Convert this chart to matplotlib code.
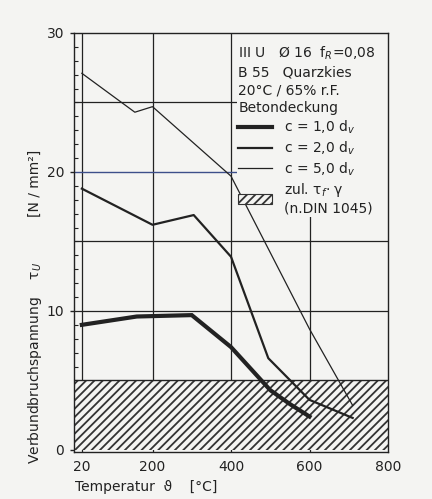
import matplotlib
matplotlib.use("Agg")
import matplotlib.pyplot as plt
from matplotlib.patches import Patch, Rectangle
from matplotlib.ticker import MultipleLocator

plt.rcParams['font.family'] = ['DejaVu Sans']
plt.rcParams['hatch.linewidth'] = 1.3
plt.rcParams['hatch.color'] = '#333333'

# ---- data ----
temp_c1 = [20, 160, 300, 400, 500, 550, 600]
tau_c1 = [9.0, 9.6, 9.7, 7.4, 4.3, 3.3, 2.4]
temp_c2 = [20, 200, 305, 400, 495, 600, 710]
tau_c2 = [18.8, 16.2, 16.9, 13.9, 6.6, 3.6, 2.3]
temp_c5 = [20, 155, 200, 400, 500, 600, 710]
tau_c5 = [27.1, 24.3, 24.7, 19.7, 14.2, 8.7, 3.2]
zul_tau = 5.0
x_range = [0, 800]
x_ticks = [20, 200, 400, 600, 800]
y_ticks = [0, 10, 20, 30]
labels = ["c = 1,0 d$_v$", "c = 2,0 d$_v$", "c = 5,0 d$_v$",
          "zul. τ$_f$· γ\n(n.DIN 1045)"]
header = "III U   Ø 16  f$_R$=0,08\nB 55   Quarzkies\n20°C / 65% r.F.\nBetondeckung"

bg = '#f4f4f2'
ink = '#222222'

fig = plt.figure(figsize=(4.32, 4.99), dpi=100, facecolor=bg)
ax = fig.add_axes([74/432, 1-452/499, 314/432, 419/499], facecolor=bg)

ax.set_xlim(x_range)
ax.set_ylim(-0.15, 30)

# grid lines
for gx in [20, 200, 400, 600]:
    ax.axvline(gx, color=ink, lw=0.9, zorder=1)
for gy in [10, 15, 25]:
    ax.axhline(gy, color=ink, lw=0.9, zorder=1)
ax.axhline(20, color='#3d4f8a', lw=1.0, zorder=1)

# blank area behind the text block
ax.add_patch(Rectangle((0.518, 0.562), 0.482, 0.438, transform=ax.transAxes,
                       facecolor=bg, edgecolor='none', zorder=1.5))

# allowable region
ax.fill_between(x_range, 0, zul_tau, facecolor=bg, edgecolor='#333333',
                hatch='////', lw=0, zorder=2)
ax.axhline(zul_tau, color=ink, lw=1.0, zorder=2)

l1, = ax.plot(temp_c1, tau_c1, color=ink, lw=3.0, zorder=4, solid_joinstyle='miter')
l2, = ax.plot(temp_c2, tau_c2, color=ink, lw=1.6, zorder=4)
l5, = ax.plot(temp_c5, tau_c5, color=ink, lw=0.9, zorder=4)
hp = Patch(facecolor=bg, edgecolor='#333333', hatch='////', lw=0.8)

leg = ax.legend([l1, l2, l5, hp], labels, title=header, loc='upper left',
                bbox_to_anchor=(0.515, 0.98), frameon=False, fontsize=10,
                title_fontsize=10, alignment='left', handlelength=2.4,
                handleheight=0.7, handletextpad=0.9, labelspacing=0.25,
                borderpad=0.2, borderaxespad=0.0)
leg.get_title().set_linespacing(1.35)
leg.get_title().set_color(ink)
for t in leg.get_texts():
    t.set_color(ink)
    t.set_linespacing(1.2)
leg.set_zorder(5)

# ticks
ax.set_xticks(x_ticks)
ax.set_yticks(y_ticks)
ax.yaxis.set_minor_locator(MultipleLocator(1))
ax.tick_params(axis='x', length=0, pad=6, labelsize=10, labelcolor=ink)
ax.tick_params(axis='y', which='major', direction='out', length=3, width=1,
               labelsize=10, labelcolor=ink, pad=4, color=ink)
ax.tick_params(axis='y', which='minor', direction='in', length=3, width=0.8,
               color=ink)
for s in ax.spines.values():
    s.set_color(ink)
    s.set_linewidth(1.0)

fig.text(75/432, 1-487/499, "Temperatur  ϑ    [°C]", fontsize=10,
         color=ink, va='center', ha='left')
fig.text(35/432, 1-363/499, "Verbundbruchspannung    τ$_U$", fontsize=10,
         color=ink, rotation=90, va='center', ha='center')
fig.text(35/432, 1-183/499, "[N / mm²]", fontsize=10, color=ink,
         rotation=90, va='center', ha='center')

fig.savefig("out.png", dpi=100, facecolor=bg)
